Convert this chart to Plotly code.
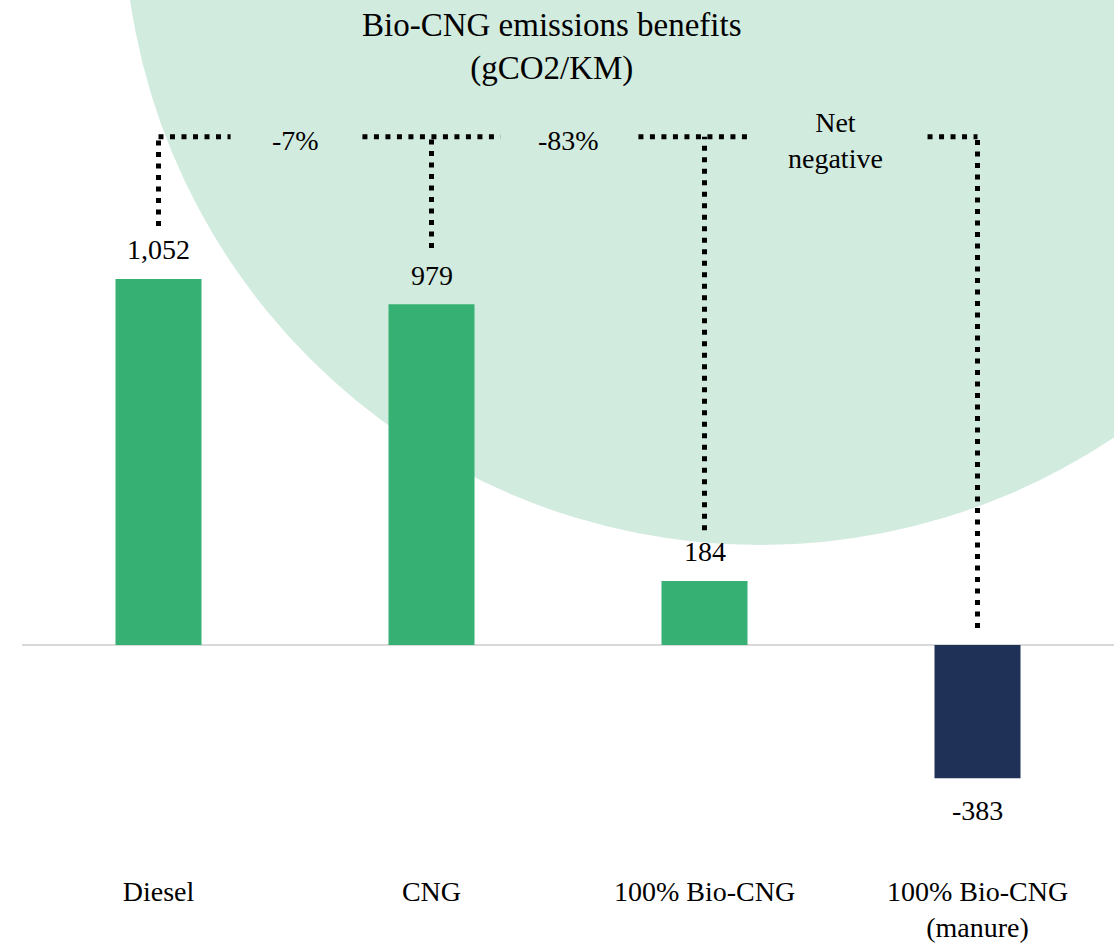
import plotly.graph_objects as go

# ---- data ----
categories = ["Diesel", "CNG", "100% Bio-CNG", "100% Bio-CNG<br>(manure)"]
emissions = [1052, 979, 184, -383]
value_labels = ["1,052", "979", "184", "-383"]
bar_colors = ["#37B074", "#37B074", "#37B074", "#1F3157"]
change_labels = ["-7%", "-83%", "Net<br>negative"]

# ---- style / layout constants (page pixels) ----
FONT = "Liberation Serif, Times New Roman, serif"
W, H = 1114, 948
ML = 22
PW = W - ML
PX_ZERO = 645          # pixel row of zero line
PX_PER_UNIT = 0.348    # pixels per gCO2/km
Y_TOP = PX_ZERO / PX_PER_UNIT
Y_BOT = -(H - PX_ZERO) / PX_PER_UNIT
BRACKET_Y = (PX_ZERO - 136.7) / PX_PER_UNIT
CLEAR_POS = [152, 162, 146]   # gap above positive bars (data units)
CLEAR_NEG = 49
ARMS = [(0.0, 0.264), (0.253, 0.253), (0.242, 0.168), (0.183, 0.0)]
LABEL_X_OFFSETS = [0.5, 1.5, 2.48]

fig = go.Figure()
fig.add_trace(go.Bar(
    x=list(range(len(categories))), y=emissions,
    marker=dict(color=bar_colors, line=dict(width=0)),
    width=0.315, hoverinfo="skip",
))

shapes = []
# big background circle
R = 636.6
shapes.append(dict(type="circle", xref="paper", yref="paper",
                   xsizemode="pixel", ysizemode="pixel",
                   xanchor=(760 - ML) / PW, yanchor=1 + 91.6 / H,
                   x0=-R, x1=R, y0=-R, y1=R,
                   fillcolor="#D2EBDF", line=dict(width=0), layer="below"))

dot = dict(color="black", width=5, dash="5px,6.5px")
for i, v in enumerate(emissions):
    low = v + CLEAR_POS[i] if v > 0 else CLEAR_NEG
    shapes.append(dict(type="line", xref="x", yref="y", x0=i, x1=i,
                       y0=low, y1=BRACKET_Y, line=dot, layer="above"))
    left, right = ARMS[i]
    shapes.append(dict(type="line", xref="x", yref="y", x0=i - left, x1=i + right,
                       y0=BRACKET_Y, y1=BRACKET_Y, line=dot, layer="above"))

annotations = []
for i, (v, t) in enumerate(zip(emissions, value_labels)):
    annotations.append(dict(x=i, y=v, xref="x", yref="y", text=t, showarrow=False,
                            yanchor="middle", yshift=29 if v > 0 else -32,
                            font=dict(family=FONT, size=28, color="black")))
for xo, t in zip(LABEL_X_OFFSETS, change_labels):
    annotations.append(dict(x=xo, y=BRACKET_Y, xref="x", yref="y", text=t,
                            showarrow=False, yanchor="middle", yshift=-4,
                            font=dict(family=FONT, size=28, color="black")))
annotations.append(dict(x=(551 - ML) / PW, y=1 - 47 / H, xref="paper", yref="paper",
                        text="Bio-CNG emissions benefits<br>(gCO2/KM)", showarrow=False,
                        yanchor="middle", xanchor="center",
                        font=dict(family=FONT, size=33, color="black")))

fig.update_layout(
    width=W, height=H,
    margin=dict(l=ML, r=0, t=0, b=0),
    paper_bgcolor="white", plot_bgcolor="rgba(0,0,0,0)",
    showlegend=False,
    shapes=shapes, annotations=annotations,
    xaxis=dict(range=[-0.5, 3.5], tickmode="array",
               tickvals=list(range(len(categories))), ticktext=categories,
               showgrid=False, zeroline=False, showline=False, ticks="",
               anchor="free", position=(H - 872) / H,
               tickfont=dict(family=FONT, size=28, color="black")),
    yaxis=dict(range=[Y_BOT, Y_TOP], showgrid=False, showticklabels=False,
               zeroline=True, zerolinecolor="#D9D9D9", zerolinewidth=2,
               showline=False, ticks=""),
)

fig.write_html("out.html",
               config={"displayModeBar": False, "staticPlot": True},
               post_script="document.body.style.margin='0';document.body.style.overflow='hidden';")
